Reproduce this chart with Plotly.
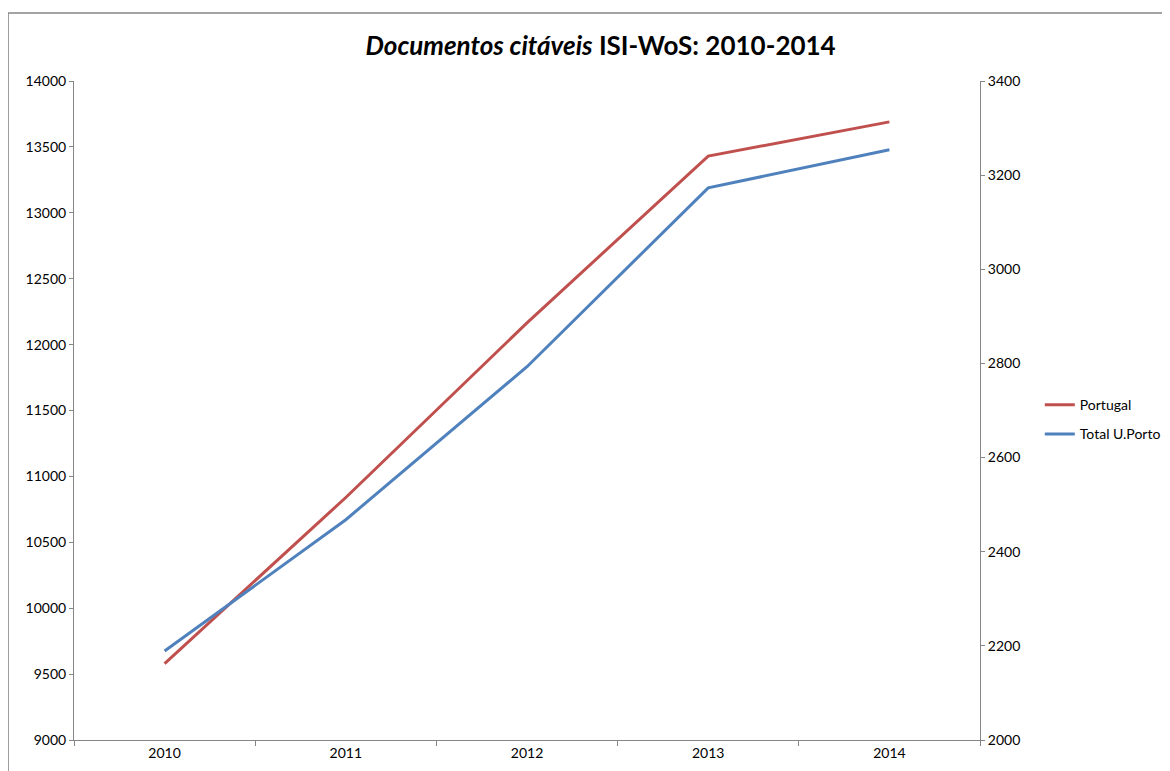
import plotly.graph_objects as go

# Data
years = ["2010", "2011", "2012", "2013", "2014"]
portugal = [9580, 10840, 12165, 13430, 13690]
uporto = [2189, 2468, 2793, 3173, 3254]

left_ticks = list(range(9000, 14001, 500))
right_ticks = list(range(2000, 3401, 200))

axis_grey = "#868686"
font_family = "Lato, 'Open Sans', sans-serif"

fig = go.Figure()

fig.add_trace(go.Scatter(
    x=years,
    y=portugal,
    name="Portugal",
    legendgroup="pt",
    mode="lines",
    line=dict(color="#C0504D", width=3),
))

fig.add_trace(go.Scatter(
    x=years,
    y=uporto,
    name="Total U.Porto",
    legendgroup="up",
    mode="lines",
    line=dict(color="#4F81BD", width=3),
    yaxis="y2",
))

# the page body adds an 8px offset, so the figure is 8px smaller each way
fig.update_layout(
    width=1162,
    height=763,
    paper_bgcolor="white",
    plot_bgcolor="white",
    margin=dict(l=66, r=190, t=73, b=31, autoexpand=False),
    font=dict(family=font_family, size=14, color="#000000"),
    title=dict(
        text="<b><i>Documentos citáveis</i> ISI-WoS: 2010-2014</b>",
        x=0.51,
        xanchor="center",
        y=0.95,
        yanchor="middle",
        font=dict(size=26, family=font_family, color="#000000"),
    ),
    xaxis=dict(
        type="category",
        range=[-0.5, 4.5],
        showgrid=False,
        showline=True,
        linecolor=axis_grey,
        linewidth=1,
        ticks="outside",
        tickson="boundaries",
        ticklen=5,
        tickcolor=axis_grey,
        zeroline=False,
    ),
    yaxis=dict(
        range=[9000, 14000],
        tickvals=left_ticks,
        tickformat="d",
        showgrid=False,
        showline=True,
        linecolor=axis_grey,
        ticks="outside",
        ticklen=4,
        tickcolor=axis_grey,
        zeroline=False,
    ),
    yaxis2=dict(
        range=[2000, 3400],
        tickvals=right_ticks,
        tickformat="d",
        overlaying="y",
        side="right",
        showgrid=False,
        showline=True,
        linecolor=axis_grey,
        ticks="outside",
        ticklen=4,
        tickcolor=axis_grey,
        zeroline=False,
    ),
    legend=dict(
        x=1.066,
        y=0.486,
        xanchor="left",
        yanchor="middle",
        bgcolor="rgba(0,0,0,0)",
        font=dict(size=14),
        itemwidth=30,
        tracegroupgap=8,
    ),
    shapes=[
        dict(
            type="rect",
            xref="paper",
            yref="paper",
            x0=-0.0728,
            x1=1.3,
            y0=-0.2,
            y1=1.103,
            line=dict(color=axis_grey, width=1.5),
            layer="below",
        )
    ],
)

fig.write_html("out.html")
